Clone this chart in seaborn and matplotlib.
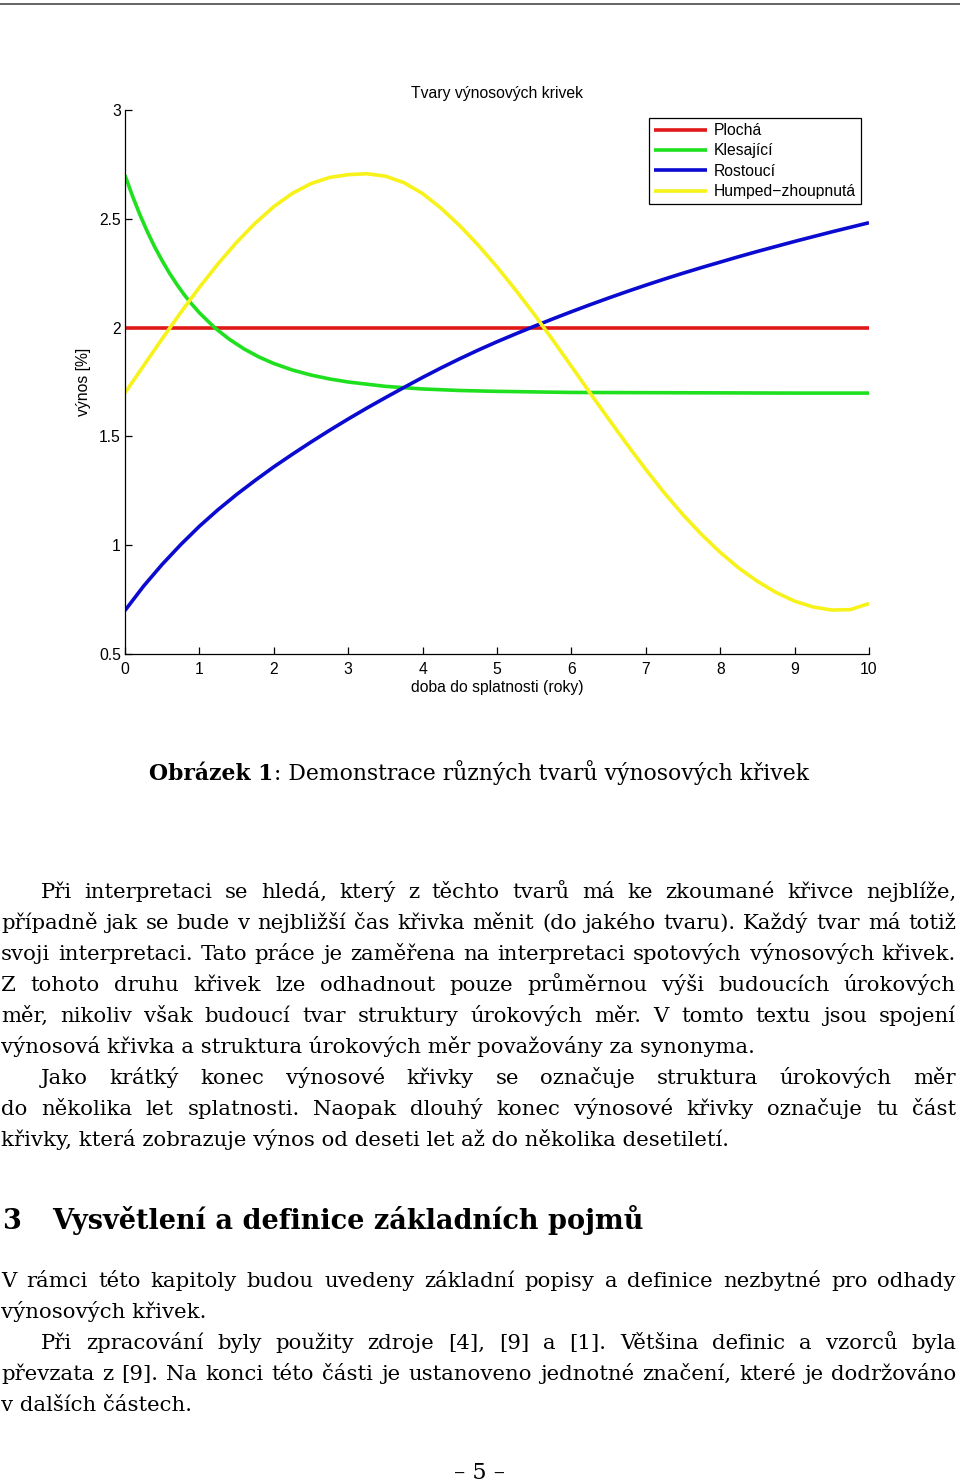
import matplotlib
matplotlib.use("Agg")
import matplotlib.pyplot as plt
import seaborn as sns
import pandas as pd
from matplotlib.lines import Line2D

# ---------------- data ----------------
maturity = [0.0, 0.25, 0.5, 0.75, 1.0, 1.25, 1.5, 1.75, 2.0, 2.25, 2.5, 2.75,
            3.0, 3.25, 3.5, 3.75, 4.0, 4.25, 4.5, 4.75, 5.0, 5.25, 5.5, 5.75,
            6.0, 6.25, 6.5, 6.75, 7.0, 7.25, 7.5, 7.75, 8.0, 8.25, 8.5, 8.75,
            9.0, 9.25, 9.5, 9.75, 10.0]

flat_maturity = [0.0, 10.0]
flat = [2.0, 2.0]

falling_maturity = [0.0, 0.1, 0.2, 0.3, 0.4, 0.5, 0.6, 0.7, 0.8, 0.9, 1.0, 1.2,
                    1.4, 1.6, 1.8, 2.0, 2.25, 2.5, 2.75, 3.0, 3.5, 4.0, 4.5,
                    5.0, 6.0, 7.0, 8.0, 9.0, 10.0]
falling = [2.700, 2.605, 2.519, 2.441, 2.370, 2.307, 2.249, 2.197, 2.149, 2.107,
           2.068, 2.001, 1.947, 1.902, 1.865, 1.835, 1.805, 1.782, 1.764, 1.750,
           1.730, 1.718, 1.711, 1.707, 1.702, 1.701, 1.700, 1.699, 1.699]

rising = [0.700, 0.812, 0.912, 1.003, 1.087, 1.163, 1.233, 1.298, 1.360, 1.418,
          1.474, 1.528, 1.580, 1.630, 1.678, 1.725, 1.771, 1.815, 1.857, 1.897,
          1.935, 1.971, 2.006, 2.040, 2.073, 2.105, 2.136, 2.166, 2.195, 2.223,
          2.250, 2.276, 2.301, 2.326, 2.350, 2.373, 2.396, 2.418, 2.440, 2.461,
          2.482]

humped = [1.700, 1.825, 1.949, 2.070, 2.185, 2.293, 2.392, 2.480, 2.556, 2.617,
          2.662, 2.690, 2.703, 2.707, 2.696, 2.666, 2.616, 2.548, 2.468, 2.378,
          2.279, 2.173, 2.061, 1.943, 1.822, 1.700, 1.580, 1.462, 1.348, 1.240,
          1.140, 1.049, 0.967, 0.895, 0.834, 0.783, 0.743, 0.716, 0.702, 0.704,
          0.732]

series_names = ["Plochá", "Klesající", "Rostoucí", "Humped\u2212zhoupnutá"]
series_colors = ["#e01818", "#1ee01e", "#0a0ad0", "#f7f21a"]

x_ticks = [0, 1, 2, 3, 4, 5, 6, 7, 8, 9, 10]
x_tick_labels = ["0", "1", "2", "3", "4", "5", "6", "7", "8", "9", "10"]
y_ticks = [0.5, 1.0, 1.5, 2.0, 2.5, 3.0]
y_tick_labels = ["0.5", "1", "1.5", "2", "2.5", "3"]

chart_title = "Tvary výnosových krivek"
x_label = "doba do splatnosti (roky)"
y_label = "výnos [%]"

caption_bold = "Obrázek 1"
caption_rest = ": Demonstrace různých tvarů výnosových křivek"

# (text, indent, justified)
para_a = [
    ("Při interpretaci se hledá, který z těchto tvarů má ke zkoumané křivce nejblíže,", True, True),
    ("případně jak se bude v nejbližší čas křivka měnit (do jakého tvaru). Každý tvar má totiž", False, True),
    ("svoji interpretaci. Tato práce je zaměřena na interpretaci spotových výnosových křivek.", False, True),
    ("Z tohoto druhu křivek lze odhadnout pouze průměrnou výši budoucích úrokových", False, True),
    ("měr, nikoliv však budoucí tvar struktury úrokových měr. V tomto textu jsou spojení", False, True),
    ("výnosová křivka a struktura úrokových měr považovány za synonyma.", False, False),
    ("Jako krátký konec výnosové křivky se označuje struktura úrokových měr", True, True),
    ("do několika let splatnosti. Naopak dlouhý konec výnosové křivky označuje tu část", False, True),
    ("křivky, která zobrazuje výnos od deseti let až do několika desetiletí.", False, False),
]
heading_num = "3"
heading_text = "Vysvětlení a definice základních pojmů"
para_b = [
    ("V rámci této kapitoly budou uvedeny základní popisy a definice nezbytné pro odhady", False, True),
    ("výnosových křivek.", False, False),
    ("Při zpracování byly použity zdroje [4], [9] a [1]. Většina definic a vzorců byla", True, True),
    ("převzata z [9]. Na konci této části je ustanoveno jednotné značení, které je dodržováno", False, True),
    ("v dalších částech.", False, False),
]
page_number = "\u2013 5 \u2013"

# ---------------- figure ----------------
W, H = 960, 1484
sns.set_style("ticks")
plt.rcParams["font.family"] = ["Liberation Sans", "DejaVu Sans"]
plt.rcParams["text.color"] = "black"
plt.rcParams["axes.labelcolor"] = "black"

fig = plt.figure(figsize=(W / 100, H / 100), dpi=100)
fig.patch.set_facecolor("white")

ax = fig.add_axes([125 / W, 1 - 654 / H, 744 / W, 544 / H])

df = pd.DataFrame({
    "maturity": flat_maturity + falling_maturity + maturity + maturity,
    "yield": flat + falling + rising + humped,
    "shape": [series_names[0]] * len(flat) + [series_names[1]] * len(falling)
             + [series_names[2]] * len(rising) + [series_names[3]] * len(humped),
})

sns.lineplot(data=df, x="maturity", y="yield", hue="shape", hue_order=series_names,
             palette=dict(zip(series_names, series_colors)), linewidth=2.6,
             estimator=None, sort=False, ax=ax)
for ln in ax.get_lines():
    ln.set_solid_joinstyle("round")
    ln.set_solid_capstyle("butt")

ax.set_xlim(0, 10)
ax.set_ylim(0.5, 3)
ax.set_xticks(x_ticks)
ax.set_xticklabels(x_tick_labels)
ax.set_yticks(y_ticks)
ax.set_yticklabels(y_tick_labels)
sns.despine(ax=ax)
for s in ("left", "bottom"):
    ax.spines[s].set_color("black")
    ax.spines[s].set_linewidth(0.9)
ax.tick_params(direction="in", length=5, width=0.9, colors="black", labelsize=11.3)
ax.tick_params(axis="x", pad=6)
ax.tick_params(axis="y", pad=3)
ax.set_title(chart_title, fontsize=11.3, pad=9, color="black")
ax.set_xlabel(x_label, fontsize=11.3, labelpad=2)
ax.set_ylabel(y_label, fontsize=11.3, labelpad=6)

handles, labels = ax.get_legend_handles_labels()
leg = ax.legend(handles, labels, loc="upper right", bbox_to_anchor=(0.9892, 0.9853),
                borderaxespad=0, frameon=True, fancybox=False, edgecolor="black",
                framealpha=1, fontsize=11.3, handlelength=3.4, handletextpad=0.42,
                labelspacing=0.34, borderpad=0.32)
leg.get_frame().set_linewidth(0.9)
for t in leg.get_texts():
    t.set_color("black")

# top rule of the page
fig.add_artist(Line2D([0, 1], [1 - 3.5 / H, 1 - 3.5 / H], color="#3a3a3a", linewidth=1.1))

# ---------------- text block ----------------
SERIF = ["DejaVu Serif"]
fig.canvas.draw()
renderer = fig.canvas.get_renderer()


def fx(px):
    return px / W


def fy(py):
    return 1 - py / H


def measure(s, size, weight="normal"):
    t = fig.text(0, 0, s, fontsize=size, fontweight=weight, family=SERIF)
    w = t.get_window_extent(renderer).width
    t.remove()
    return w


LEFT, RIGHT, INDENT = 1, 956, 40

S0 = 14.0
ratios = []
for text, ind, just in para_a + para_b:
    if just:
        x0 = LEFT + (INDENT if ind else 0)
        ratios.append((RIGHT - x0) / measure(text, S0))
S = S0 * min(ratios) * 0.995


def put_line(text, y, ind, just, size):
    x0 = LEFT + (INDENT if ind else 0)
    if not just:
        fig.text(fx(x0), fy(y), text, fontsize=size, family=SERIF, va="baseline", ha="left")
        return
    words = text.split(" ")
    ws = [measure(w, size) for w in words]
    gap = (RIGHT - x0 - sum(ws)) / (len(words) - 1)
    x = x0
    for w, wd in zip(words, ws):
        fig.text(fx(x), fy(y), w, fontsize=size, family=SERIF, va="baseline", ha="left")
        x += wd + gap


base = 898
for i, (text, ind, just) in enumerate(para_a):
    put_line(text, base + 31 * i, ind, just, S)

base = 1287
for i, (text, ind, just) in enumerate(para_b):
    put_line(text, base + 31 * i, ind, just, S)

# heading
Sh = S * 590 / measure(heading_text, S, "bold")
fig.text(fx(2), fy(1229), heading_num, fontsize=Sh, fontweight="bold", family=SERIF, va="baseline")
fig.text(fx(52), fy(1229), heading_text, fontsize=Sh, fontweight="bold", family=SERIF, va="baseline")

# caption
wb = measure(caption_bold, S, "bold")
wr = measure(caption_rest, S)
Sc = S * 657 / (wb + wr)
wb = measure(caption_bold, Sc, "bold")
wr = measure(caption_rest, Sc)
cx0 = 479 - (wb + wr) / 2
fig.text(fx(cx0), fy(780), caption_bold, fontsize=Sc, fontweight="bold", family=SERIF, va="baseline")
fig.text(fx(cx0 + wb), fy(780), caption_rest, fontsize=Sc, family=SERIF, va="baseline")

# page number
fig.text(fx(480), fy(1479), page_number, fontsize=S * 1.05, family=SERIF, va="baseline", ha="center")

fig.savefig("out.png", dpi=100, facecolor="white")
